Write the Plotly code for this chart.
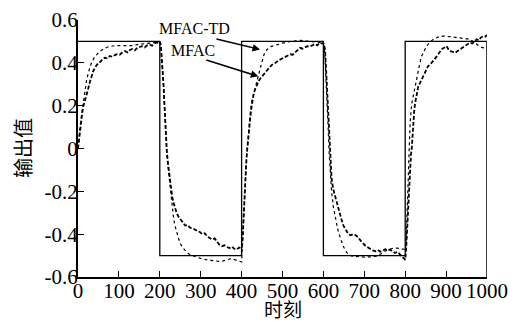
import plotly.graph_objects as go

# Reference square wave
ref_x = [0, 200, 200, 400, 400, 600, 600, 800, 800, 1000]
ref_y = [0.5, 0.5, -0.5, -0.5, 0.5, 0.5, -0.5, -0.5, 0.5, 0.5]

# MFAC (dashed, noisy)
mfac_x = [0, 3, 6, 9, 12, 15, 18, 21, 25, 29, 33, 37, 42, 46, 50, 55, 60, 66, 72, 78,
          84, 90, 96, 102, 108, 115, 121, 127, 133, 139, 145, 151, 157, 163, 169, 175, 181, 187, 193, 198,
          201, 203, 205, 207, 209, 211, 213, 215, 217, 220, 224, 227, 230, 233, 237, 241, 245, 250, 256, 262,
          268, 274, 280, 286, 292, 298, 304, 310, 316, 322, 328, 334, 340, 346, 352, 358, 364, 370, 376, 382,
          388, 394, 399, 401, 403, 405, 407, 409, 411, 413, 415, 418, 421, 424, 427, 430, 434, 438, 442, 447,
          453, 459, 465, 471, 477, 483, 489, 495, 501, 507, 513, 519, 525, 531, 537, 543, 549, 555, 561, 567,
          573, 579, 585, 591, 597, 600, 602, 604, 606, 608, 610, 612, 614, 616, 618, 620, 624, 628, 632, 636,
          640, 644, 649, 655, 661, 667, 673, 679, 685, 691, 697, 703, 709, 715, 721, 727, 733, 739, 745, 751,
          757, 763, 769, 775, 781, 787, 793, 798, 800, 802, 804, 806, 808, 810, 812, 814, 816, 818, 820, 822,
          824, 828, 832, 836, 840, 844, 848, 852, 856, 860, 865, 871, 877, 883, 889, 895, 901, 905, 909, 915,
          922, 928, 934, 940, 946, 952, 958, 964, 970, 975, 980, 985, 991, 996, 1000]
mfac_y = [0.0, 0.05, 0.10, 0.15, 0.19, 0.21, 0.235, 0.245, 0.28, 0.31, 0.338, 0.36, 0.38, 0.39, 0.40, 0.405, 0.418, 0.424, 0.42, 0.432,
          0.428, 0.436, 0.44, 0.438, 0.448, 0.455, 0.449, 0.46, 0.465, 0.458, 0.47, 0.474, 0.478, 0.472, 0.482, 0.486, 0.48, 0.49, 0.495, 0.49,
          0.497, 0.47, 0.42, 0.36, 0.30, 0.22, 0.12, 0.05, -0.01, -0.07, -0.14, -0.18, -0.22, -0.25, -0.28, -0.30, -0.316, -0.33, -0.345, -0.36,
          -0.357, -0.37, -0.372, -0.38, -0.385, -0.39, -0.40, -0.396, -0.41, -0.418, -0.425, -0.42, -0.438, -0.45, -0.456, -0.452, -0.46, -0.465, -0.458, -0.468,
          -0.472, -0.462, -0.466, -0.46, -0.40, -0.30, -0.22, -0.16, -0.08, -0.02, 0.03, 0.09, 0.14, 0.19, 0.23, 0.26, 0.28, 0.30, 0.315, 0.33,
          0.345, 0.36, 0.375, 0.385, 0.395, 0.40, 0.41, 0.416, 0.42, 0.425, 0.432, 0.44, 0.438, 0.45, 0.46, 0.47, 0.466, 0.474, 0.478, 0.476,
          0.484, 0.488, 0.482, 0.494, 0.49, 0.492, 0.48, 0.46, 0.39, 0.31, 0.23, 0.15, 0.08, 0.0, -0.08, -0.14, -0.19, -0.22, -0.25, -0.27,
          -0.30, -0.33, -0.36, -0.38, -0.40, -0.405, -0.40, -0.405, -0.415, -0.43, -0.445, -0.455, -0.462, -0.47, -0.476, -0.48, -0.474, -0.482, -0.478, -0.47,
          -0.475, -0.472, -0.48, -0.488, -0.482, -0.495, -0.505, -0.515, -0.52, -0.48, -0.40, -0.30, -0.20, -0.12, -0.07, -0.03, 0.0, 0.07, 0.135, 0.175,
          0.21, 0.25, 0.29, 0.305, 0.32, 0.34, 0.354, 0.37, 0.385, 0.39, 0.40, 0.415, 0.43, 0.445, 0.463, 0.47, 0.478, 0.465, 0.455, 0.452,
          0.447, 0.455, 0.463, 0.47, 0.478, 0.485, 0.494, 0.49, 0.502, 0.51, 0.505, 0.518, 0.525, 0.522, 0.53]

# MFAC-TD (dotted, smooth)
td_x = [0, 2, 5, 9, 13, 17, 21, 27, 33, 40, 50, 60, 74, 90, 100, 115, 130, 145, 160, 175,
        190, 200, 203, 206, 209, 212, 215, 218, 222, 226, 230, 234, 237, 241, 245, 249, 255, 260, 266, 275,
        285, 298, 315, 330, 345, 355, 365, 372, 380, 390, 398, 400, 402, 404, 406, 408, 410, 412, 415, 418,
        421, 425, 429, 433, 437, 441, 445, 449, 455, 461, 470, 486, 500, 520, 543, 567, 585, 596, 600, 602,
        604, 606, 608, 610, 612, 614, 616, 618, 620, 624, 628, 632, 636, 641, 645, 649, 655, 661, 670, 681,
        700, 715, 730, 742, 755, 768, 780, 790, 800, 802, 804, 806, 808, 810, 812, 816, 820, 824, 828, 832,
        836, 840, 846, 852, 860, 869, 880, 893, 910, 926, 942, 958, 966, 975, 983, 991, 1000]
td_y = [0.0, 0.05, 0.10, 0.16, 0.21, 0.27, 0.32, 0.365, 0.40, 0.425, 0.447, 0.462, 0.475, 0.48, 0.48, 0.478, 0.48, 0.485, 0.488, 0.492,
        0.496, 0.498, 0.47, 0.40, 0.30, 0.18, 0.06, -0.04, -0.12, -0.20, -0.28, -0.33, -0.36, -0.39, -0.415, -0.44, -0.46, -0.472, -0.485, -0.497,
        -0.505, -0.512, -0.52, -0.525, -0.527, -0.525, -0.52, -0.515, -0.517, -0.525, -0.53, -0.53, -0.45, -0.35, -0.25, -0.17, -0.10, -0.04, 0.03, 0.10,
        0.16, 0.22, 0.25, 0.29, 0.31, 0.34, 0.37, 0.40, 0.44, 0.46, 0.475, 0.486, 0.492, 0.50, 0.505, 0.50, 0.497, 0.494, 0.49, 0.47,
        0.42, 0.35, 0.28, 0.18, 0.08, -0.02, -0.10, -0.16, -0.20, -0.27, -0.31, -0.35, -0.385, -0.415, -0.44, -0.458, -0.48, -0.495, -0.503, -0.505,
        -0.507, -0.506, -0.503, -0.49, -0.475, -0.467, -0.465, -0.468, -0.472, -0.45, -0.32, -0.20, -0.08, 0.03, 0.12, 0.21, 0.25, 0.29, 0.33, 0.37,
        0.40, 0.43, 0.455, 0.478, 0.495, 0.51, 0.52, 0.525, 0.522, 0.517, 0.513, 0.51, 0.50, 0.486, 0.475, 0.47, 0.475]

y_tick_vals = [0.6, 0.4, 0.2, 0, -0.2, -0.4, -0.6]
y_tick_text = ["0.6", "0.4", "0.2", "0", "-0.2", "-0.4", "-0.6"]
x_tick_vals = [0, 100, 200, 300, 400, 500, 600, 700, 800, 900, 1000]
x_tick_text = ["0", "100", "200", "300", "400", "500", "600", "700", "800", "900", "1000"]
x_title = "时刻"
y_title = "输出值"

fig = go.Figure()
fig.add_trace(go.Scatter(x=ref_x, y=ref_y, mode="lines", name="参考",
                         line=dict(color="black", width=1.3), showlegend=False))
fig.add_trace(go.Scatter(x=td_x, y=td_y, mode="lines", name="MFAC-TD",
                         line=dict(color="black", width=1.2, dash="dot"), showlegend=False))
fig.add_trace(go.Scatter(x=mfac_x, y=mfac_y, mode="lines", name="MFAC",
                         line=dict(color="black", width=1.8, dash="4px,2px"), showlegend=False))

fig.add_shape(type="line", x0=1000, x1=1000, y0=-0.6, y1=0.5, xref="x", yref="y",
              line=dict(color="black", width=1.5))

serif = "Liberation Serif, Times New Roman, serif"
cjk = "Noto Sans CJK SC"

# annotation labels and arrows
fig.add_annotation(x=285, y=0.56, text="MFAC-TD", showarrow=False,
                   font=dict(family=serif, size=16, color="black"))
fig.add_annotation(x=280, y=0.457, text="MFAC", showarrow=False,
                   font=dict(family=serif, size=16, color="black"))
fig.add_annotation(x=445, y=0.462, ax=335, ay=0.513, axref="x", ayref="y", xref="x", yref="y",
                   text="", showarrow=True, arrowhead=2, arrowsize=1, arrowwidth=1.5, arrowcolor="black")
fig.add_annotation(x=441, y=0.337, ax=310, ay=0.415, axref="x", ayref="y", xref="x", yref="y",
                   text="", showarrow=True, arrowhead=2, arrowsize=1, arrowwidth=1.5, arrowcolor="black")

# axis titles
fig.add_annotation(x=0.5024, y=-0.1245, xref="paper", yref="paper", text=x_title, showarrow=False,
                   xanchor="center", yanchor="middle",
                   font=dict(family=cjk, size=19, color="black"))
fig.add_annotation(x=-0.1357, y=0.504, xref="paper", yref="paper", text=y_title, showarrow=False,
                   textangle=-90, xanchor="center", yanchor="middle",
                   font=dict(family=cjk, size=20, color="black"))

fig.update_layout(
    width=516, height=322,
    margin=dict(l=78, r=29, t=20, b=45),
    paper_bgcolor="white", plot_bgcolor="white",
    showlegend=False,
)
fig.update_xaxes(range=[0, 1000], tickvals=x_tick_vals, ticktext=x_tick_text,
                 showgrid=False, zeroline=False, showline=True, linecolor="black", linewidth=2,
                 ticks="inside", ticklen=6, tickwidth=1, tickcolor="black",
                 ticklabelstandoff=-6,
                 tickfont=dict(family=serif, size=21, color="black"),
                 automargin=False)
fig.update_yaxes(range=[-0.6, 0.6], tickvals=y_tick_vals, ticktext=y_tick_text,
                 showgrid=False, zeroline=False, showline=True, linecolor="black", linewidth=2,
                 ticks="inside", ticklen=6, tickwidth=1, tickcolor="black",
                 ticklabelstandoff=-6,
                 tickfont=dict(family=serif, size=21, color="black"),
                 automargin=False)

fig.write_html("out.html", config={"displayModeBar": False},
               post_script="document.body.style.margin='0px';")
